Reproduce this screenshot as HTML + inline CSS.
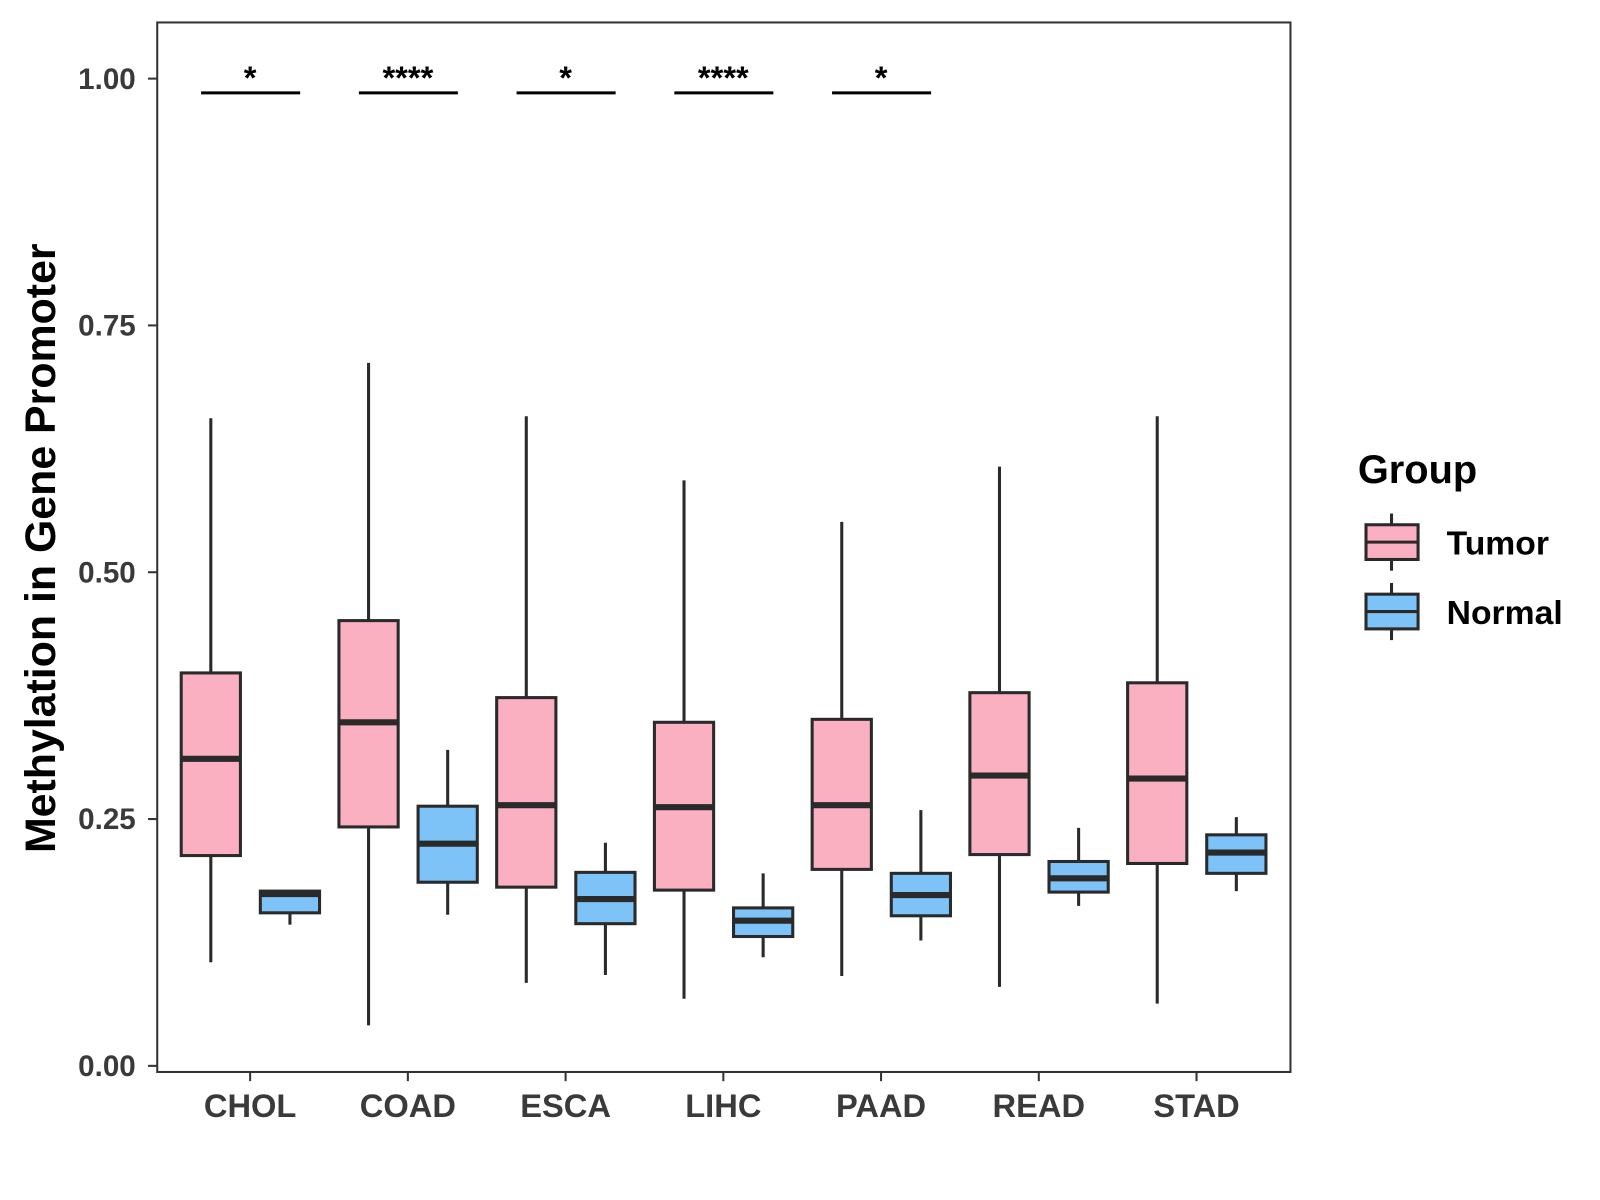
<!DOCTYPE html>
<html><head><meta charset="utf-8"><style>
body{margin:0;background:#fff;}
svg{display:block;font-family:"Liberation Sans",Arial,sans-serif;}
</style></head><body>
<svg id="chart" width="1600" height="1200" viewBox="0 0 1567.2 1175.4">
<rect x="154" y="22" width="1110" height="1028" fill="#fff" stroke="#333" stroke-width="2"/>
<g id="yticks"></g><g id="xticks"></g><g id="boxes"></g><g id="sig"></g>
<text transform="translate(54,537) rotate(-90)" text-anchor="middle" font-size="42" font-weight="bold" fill="#000">Methylation in Gene Promoter</text>
<g>
<text x="1330" y="473" font-size="39" font-weight="bold" fill="#000">Group</text>
<g>
<line x1="1363" y1="503" x2="1363" y2="559" stroke="#2a2a2a" stroke-width="3"/>
<rect x="1338" y="514" width="51" height="34" fill="#FBB0C2" stroke="#2a2a2a" stroke-width="3"/>
<line x1="1338" y1="531" x2="1389" y2="531" stroke="#2a2a2a" stroke-width="3"/>
<text x="1417" y="543" font-size="33" font-weight="bold" fill="#000">Tumor</text></g>
<g>
<line x1="1363" y1="571" x2="1363" y2="627" stroke="#2a2a2a" stroke-width="3"/>
<rect x="1338" y="582" width="51" height="34" fill="#7DC3F8" stroke="#2a2a2a" stroke-width="3"/>
<line x1="1338" y1="599" x2="1389" y2="599" stroke="#2a2a2a" stroke-width="3"/>
<text x="1417" y="611" font-size="33" font-weight="bold" fill="#000">Normal</text></g>
</g>
</svg>
<script>
const categories=["CHOL","COAD","ESCA","LIHC","PAAD","READ","STAD"];
const tumorLow=[0.105,0.041,0.084,0.068,0.091,0.080,0.063];
const tumorQ1=[0.213,0.242,0.181,0.178,0.199,0.214,0.205];
const tumorMed=[0.311,0.348,0.264,0.262,0.264,0.294,0.291];
const tumorQ3=[0.398,0.451,0.373,0.348,0.351,0.378,0.388];
const tumorHigh=[0.656,0.712,0.658,0.593,0.551,0.607,0.658];
const normalLow=[0.143,0.153,0.092,0.110,0.127,0.162,0.177];
const normalQ1=[0.155,0.186,0.144,0.131,0.152,0.176,0.195];
const normalMed=[0.174,0.225,0.169,0.147,0.173,0.190,0.216];
const normalQ3=[0.177,0.263,0.196,0.160,0.195,0.207,0.234];
const normalHigh=[0.177,0.320,0.226,0.195,0.259,0.241,0.252];
const sigLabels=["*","****","*","****","*","",""];
const yTicks=[0,0.25,0.5,0.75,1.0];
const yTickLabels=["0.00","0.25","0.50","0.75","1.00"];

const NS="http://www.w3.org/2000/svg";
const y=v=>1044-v*967;
const x=i=>245+i*154.5;
function mk(tag,attrs,parent){const e=document.createElementNS(NS,tag);for(const k in attrs)e.setAttribute(k,attrs[k]);parent.appendChild(e);return e;}
const gy=document.getElementById('yticks'),gx=document.getElementById('xticks'),gb=document.getElementById('boxes'),gs=document.getElementById('sig');
yTicks.forEach((v,i)=>{
  const l=mk('line',{x1:145,x2:154,y1:y(v),y2:y(v),stroke:'#333','stroke-width':2},gy);
  
  
  const t=mk('text',{x:133,y:y(v)+10,'text-anchor':'end','font-size':29,'font-weight':'bold',fill:'#3a3a3a'},gy);
  t.textContent=yTickLabels[i];
  
  
});
categories.forEach((c,i)=>{
  mk('line',{x1:x(i),x2:x(i),y1:1050,y2:1059,stroke:'#333','stroke-width':2},gx);
  const t=mk('text',{x:x(i),y:1094,'text-anchor':'middle','font-size':32,'font-weight':'bold',fill:'#3a3a3a'},gx);
  t.textContent=c;
  
  
  [[-38.5,'#FBB0C2',tumorLow,tumorQ1,tumorMed,tumorQ3,tumorHigh,'tumor'],[39,'#7DC3F8',normalLow,normalQ1,normalMed,normalQ3,normalHigh,'normal']].forEach(s=>{
    const cx=x(i)+s[0],w=58;
    const g=mk('g',{},gb);
    
    
    mk('line',{x1:cx,x2:cx,y1:y(s[6][i]),y2:y(s[2][i]),stroke:'#2a2a2a','stroke-width':3},g);
    mk('rect',{x:cx-w/2,y:y(s[5][i]),width:w,height:y(s[3][i])-y(s[5][i]),fill:s[1],stroke:'#2a2a2a','stroke-width':3},g);
    mk('line',{x1:cx-w/2,x2:cx+w/2,y1:y(s[4][i]),y2:y(s[4][i]),stroke:'#2a2a2a','stroke-width':6},g);
  });
  if(sigLabels[i]){
    const g=mk('g',{},gs);
    
    
    mk('line',{x1:x(i)-48,x2:x(i)+49,y1:91,y2:91,stroke:'#000','stroke-width':3},g);
    const t=mk('text',{x:x(i),y:87,'text-anchor':'middle','font-size':32,'font-weight':'bold',fill:'#000'},g);
    t.textContent=sigLabels[i];
  }
});
</script>
</body></html>
